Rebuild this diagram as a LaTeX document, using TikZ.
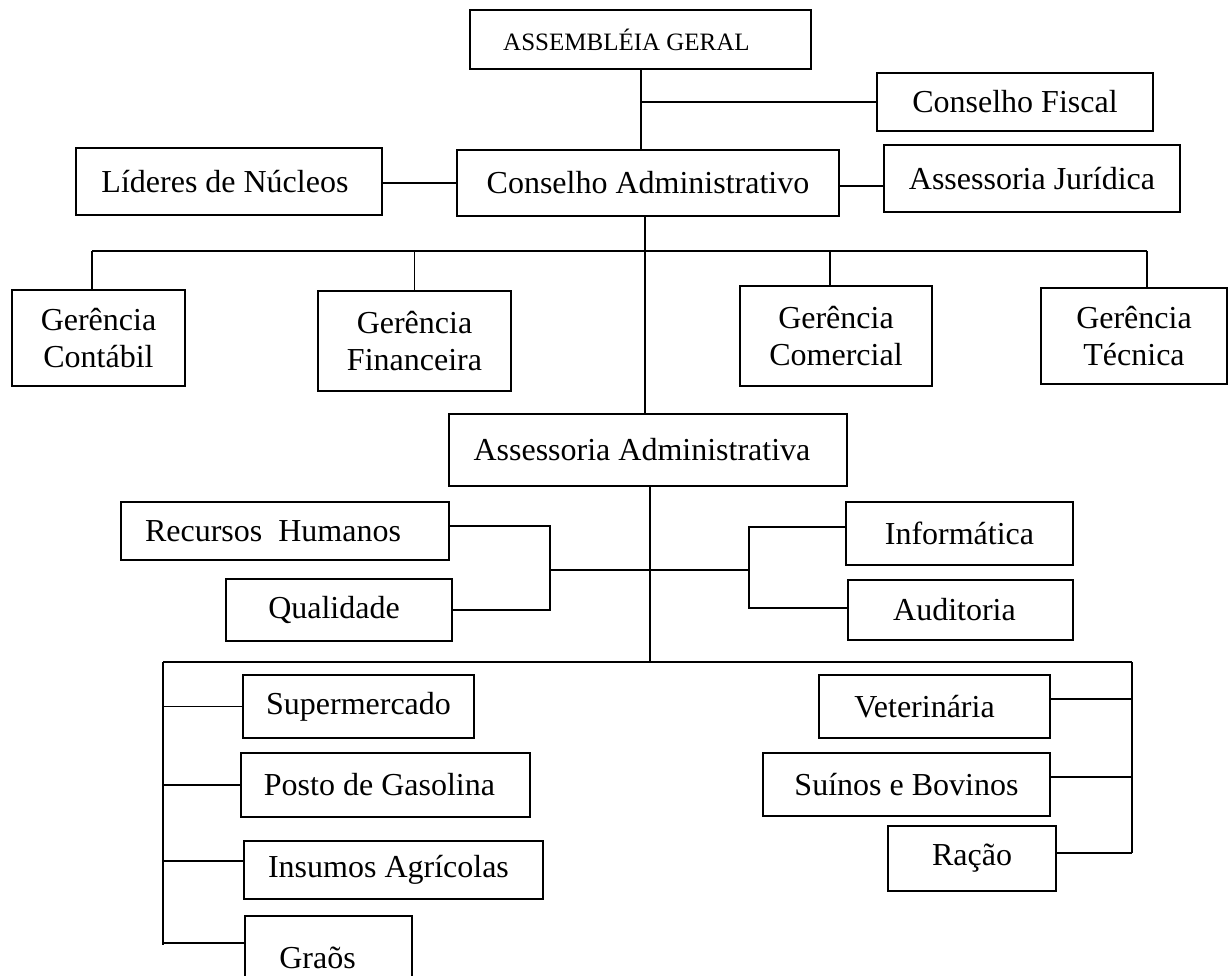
\documentclass[tikz,border=0pt]{standalone}
\usepackage{fontspec}
\setmainfont{Liberation Serif}
\begin{document}
\begin{tikzpicture}[x=1pt,y=-1pt,
  box/.style={draw, line width=2pt, rectangle, inner sep=0pt, align=center,
    font=\fontsize{32}{37}\selectfont},
  conn/.style={line width=1.7pt}]
\useasboundingbox (0,0) rectangle (1229,975);
\clip (0,0) rectangle (1229,975);

% top level
\node[box, minimum width=341, minimum height=59, font=\fontsize{25}{30}\selectfont] (ag) at (640.5,39.5) {\hspace*{-28pt}ASSEMBLÉIA GERAL};
\node[box, minimum width=276, minimum height=58] (cf) at (1015,102) {Conselho Fiscal};
\node[box, minimum width=382, minimum height=66] (ca) at (648,183) {Conselho Administrativo};
\node[box, minimum width=306, minimum height=67] (ld) at (229,181.5) {\hspace*{-8pt}Líderes de Núcleos};
\node[box, minimum width=296, minimum height=67] (aj) at (1032,178.5) {Assessoria Jurídica};

% managers
\node[box, minimum width=173, minimum height=96] (gc) at (98.5,338) {Gerência\\Contábil};
\node[box, minimum width=193, minimum height=100] (gf) at (414.5,341) {Gerência\\Financeira};
\node[box, minimum width=192, minimum height=100] (gco) at (836,336) {Gerência\\Comercial};
\node[box, minimum width=186, minimum height=96] (gt) at (1134,336) {Gerência\\Técnica};

% administrative advisory
\node[box, minimum width=398, minimum height=72] (aa) at (648,450) {\hspace*{-12pt}Assessoria Administrativa};
\node[box, minimum width=328, minimum height=58] (rh) at (285,531) {\hspace*{-24pt}Recursos\ \ Humanos};
\node[box, minimum width=226, minimum height=62] (q) at (339,610) {\hspace*{-10pt}Qualidade};
\node[box, minimum width=227, minimum height=63] (inf) at (959.5,533.5) {Informática};
\node[box, minimum width=225, minimum height=60] (aud) at (960.5,610) {\hspace*{-12pt}Auditoria};

% units left
\node[box, minimum width=231, minimum height=63] (sup) at (358.5,706.5) {Supermercado};
\node[box, minimum width=289, minimum height=64] (pg) at (385.5,785) {\hspace*{-12pt}Posto de Gasolina};
\node[box, minimum width=299, minimum height=58] (ia) at (393.5,870) {\hspace*{-10pt}Insumos Agrícolas};
\node[box, minimum width=167, minimum height=84] (gr) at (328.5,958) {\hspace*{-22pt}Graõs};

% units right
\node[box, minimum width=231, minimum height=63] (vet) at (934.5,706.5) {\hspace*{-20pt}Veterinária};
\node[box, minimum width=287, minimum height=63] (sb) at (906.5,784.5) {Suínos e Bovinos};
\node[box, minimum width=168, minimum height=65] (ra) at (972,858.5) {Ração};

% connectors top
\coordinate (t1) at (641,102);
\draw[conn] (ag.south -| t1) -- (ca.north -| t1);
\draw[conn] (t1) -- (cf.west |- t1);
\coordinate (t3) at (420,183);
\draw[conn] (ld.east |- t3) -- (ca.west |- t3);
\coordinate (t2) at (860,186);
\draw[conn] (ca.east |- t2) -- (aj.west |- t2);

% managers bar
\coordinate (b0) at (645,251);
\coordinate (bl) at (92,251);
\coordinate (br) at (1147,251);
\coordinate (bc) at (830,251);
\draw[conn] (ca.south -| b0) -- (aa.north -| b0);
\draw[conn] (bl) -- (br);
\draw[conn] (bl) -- (bl |- gc.north);
\draw[conn] (gf.north |- bl) -- (gf.north);
\draw[conn] (bc) -- (bc |- gco.north);
\draw[conn] (br) -- (br |- gt.north);

% advisory brackets
\coordinate (c0) at (650,662);
\draw[conn] (aa.south -| c0) -- (c0);
\coordinate (lk) at (550,570);
\coordinate (rk) at (749,570);
\draw[conn] (lk) -- (rk);
\coordinate (rh1) at (550,526);
\coordinate (q1) at (550,610);
\draw[conn] (rh.east |- rh1) -- (rh1) -- (q1) -- (q.east |- q1);
\coordinate (inf1) at (749,527);
\coordinate (aud1) at (749,608);
\draw[conn] (inf.west |- inf1) -- (inf1) -- (aud1) -- (aud.west |- aud1);

% bottom bar
\coordinate (dl) at (163,662);
\coordinate (dr) at (1132,662);
\draw[conn] (dl) -- (dr);
\coordinate (dlb) at (163,945);
\draw[conn] (dl) -- (dlb);
\draw[conn] (sup.west -| dl) -- (sup.west);
\draw[conn] (pg.west -| dl) -- (pg.west);
\coordinate (ia1) at (163,861);
\draw[conn] (ia1) -- (ia1 -| ia.west);
\coordinate (gr1) at (163,943);
\draw[conn] (gr1) -- (gr1 -| gr.west);

\coordinate (drb) at (1132,853);
\draw[conn] (dr) -- (drb);
\coordinate (vet1) at (1132,699);
\draw[conn] (vet.east |- vet1) -- (vet1);
\coordinate (sb1) at (1132,777);
\draw[conn] (sb.east |- sb1) -- (sb1);
\draw[conn] (ra.east |- drb) -- (drb);
\end{tikzpicture}
\end{document}
